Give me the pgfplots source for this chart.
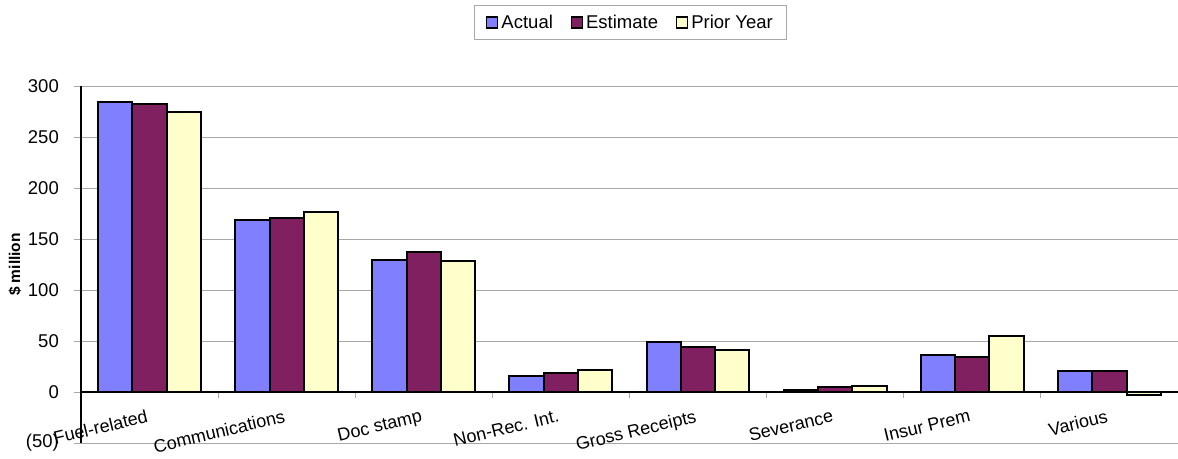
\documentclass[border=0pt]{standalone}
\usepackage{fontspec}
\setmainfont{Liberation Sans}
\usepackage{pgfplots}
\pgfplotsset{compat=1.18}
\definecolor{cA}{RGB}{128,128,255}
\definecolor{cE}{RGB}{128,32,96}
\definecolor{cP}{RGB}{255,255,204}
\definecolor{gridc}{RGB}{168,168,168}
\begin{document}
\begin{tikzpicture}
\useasboundingbox (0,0) rectangle (1178pt,458pt);
\begin{axis}[
  at={(81pt,15pt)}, anchor=south west,
  scale only axis, width=1097pt, height=357pt,
  ybar=0pt, bar width=0.25,
  xmin=-0.5, xmax=7.5, ymin=-50, ymax=300,
  axis x line=middle, axis y line=left,
  axis line style={-, black, line width=1.2pt},
  hide obscured x ticks=false, hide obscured y ticks=false,
  tick align=outside,
  xtick={0,...,7},
  xticklabels={Fuel-related, Communications, Doc stamp, Non-Rec. Int., Gross Receipts, Severance, Insur Prem, Various},
  minor xtick={0.5,1.5,...,6.5},
  major x tick style={draw=none},
  minor x tick style={gridc, line width=1pt},
  minor tick length=6pt,
  major tick length=7pt,
  xticklabel style={rotate=13.5, anchor=north east, font=\fontsize{18}{21}\selectfont, inner sep=2pt, yshift=-7pt, xshift=-4pt},
  ytick={-50,0,50,100,150,200,250,300},
  yticklabels={(50),0,50,100,150,200,250,300},
  major y tick style={gridc, line width=1pt},
  yticklabel style={font=\fontsize{18.5}{21}\selectfont, inner sep=2pt, xshift=-13pt},
  ymajorgrids, grid style={gridc, line width=1pt},
  ylabel={\$ million},
  ylabel style={font=\bfseries\fontsize{15.5}{18}\selectfont, at={(axis description cs:-0.0602,0.5)}, anchor=center},
  legend style={at={(0.501,1.178)}, anchor=center, draw=gridc, line width=1pt,
    legend columns=3, font=\fontsize{18.5}{22}\selectfont,
    /tikz/every even column/.append style={column sep=16pt},
    /tikz/every odd column/.append style={column sep=1pt},
    nodes={inner ysep=6pt},
    inner xsep=12pt, inner ysep=4pt},
  legend image code/.code={\draw[#1, line width=1.2pt] (0pt,-5.5pt) rectangle (11pt,5.5pt);},
]
\addplot[fill=cA, draw=black, line width=2pt] coordinates {(0,284) (1,168.5) (2,129) (3,16) (4,48.6) (5,2.2) (6,36.5) (7,20.9)};
\addplot[fill=cE, draw=black, line width=2pt] coordinates {(0,282) (1,171) (2,137.4) (3,18.6) (4,43.7) (5,4.9) (6,34.3) (7,20.5)};
\addplot[fill=cP, draw=black, line width=2pt] coordinates {(0,274.5) (1,176.3) (2,128.3) (3,21.8) (4,41.4) (5,5.9) (6,54.5) (7,-3.3)};
\legend{Actual, Estimate, Prior Year}
\end{axis}
\end{tikzpicture}
\end{document}
